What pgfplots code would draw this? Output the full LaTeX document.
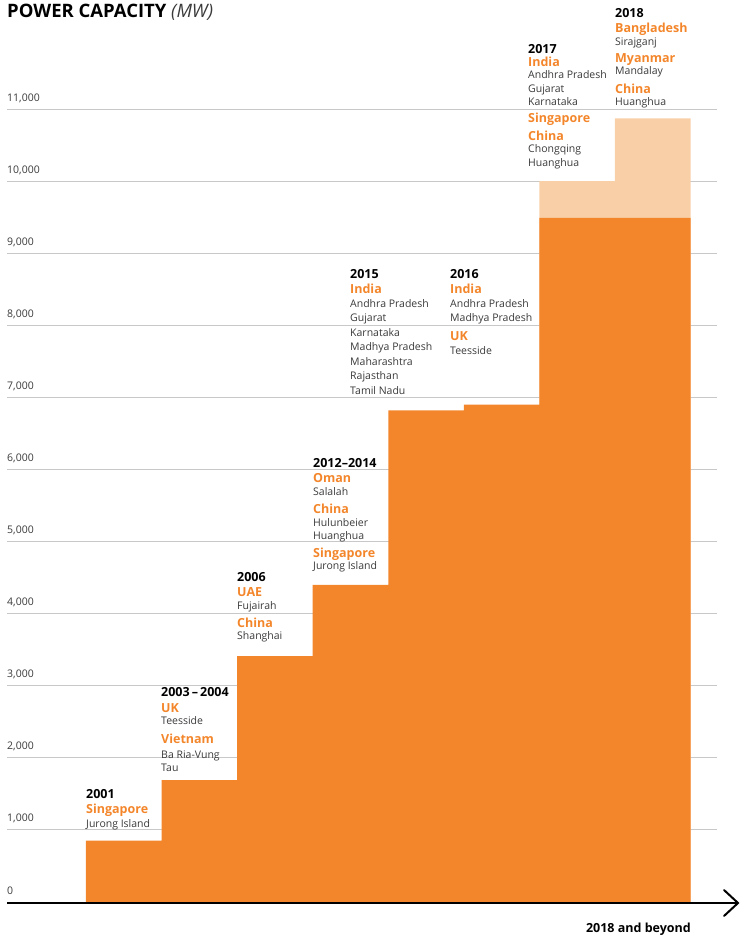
\documentclass[border=0pt]{standalone}
\usepackage{pgfplots}
\pgfplotsset{compat=1.18}
\usepackage{fontspec}
\setmainfont{Open Sans}
\definecolor{corange}{HTML}{F3862B}
\definecolor{clight}{HTML}{F9CFA7}
\definecolor{cplace}{HTML}{3A3A3A}
\definecolor{cgrid}{HTML}{C8C8C8}
\newcommand{\yr}[3]{\node[anchor=base west,inner sep=0pt,font=\fontsize{12.5}{14}\selectfont\bfseries,text=black] at (#1,#2) {#3};}
\newcommand{\ct}[3]{\node[anchor=base west,inner sep=0pt,font=\fontsize{12.5}{14}\selectfont\bfseries,text=corange] at (#1,#2) {#3};}
\newcommand{\pl}[3]{\node[anchor=base west,inner sep=0pt,font=\fontsize{10.5}{12}\selectfont,text=cplace] at (#1,#2) {#3};}
\begin{document}
\begin{tikzpicture}
\begin{axis}[at={(7pt,-902pt)}, anchor=south west, scale only axis,
  width=710pt, height=793pt,
  xmin=-1.045, xmax=8.35, ymin=0, ymax=11000,
  axis line style={draw=none}, xtick=\empty,
  scaled y ticks=false,
  ytick={0,1000,2000,3000,4000,5000,6000,7000,8000,9000,10000,11000},
  yticklabels={0,{1,000},{2,000},{3,000},{4,000},{5,000},{6,000},{7,000},{8,000},{9,000},{10,000},{11,000}},
  major tick length=0pt, ymajorgrids, grid style={cgrid, line width=1pt},
  yticklabel style={anchor=base west, inner sep=0pt, yshift=8pt, font=\fontsize{10.5}{12}\selectfont, text=cplace},
  clip=false]
\addplot[const plot, fill=clight, draw=none] coordinates {(6,10000) (7,10870) (8,10870)} \closedcycle;
\addplot[const plot, fill=corange, draw=none] coordinates {(0,850) (1,1690) (2,3410) (3,4400) (4,6820) (5,6900) (6,9490) (7,9490) (8,9490)} \closedcycle;
\end{axis}
\begin{scope}[x=1pt,y=-1pt]
\draw[line width=2pt] (7,903) -- (737,903);
\draw[line width=2pt, line cap=round, line join=miter] (724,890) -- (738,903) -- (724,916);
\node[anchor=base west,inner sep=0pt,font=\fontsize{18.5}{20}\selectfont] at (7,17) {\textbf{POWER CAPACITY} {\itshape\color{cplace}(MW)}};
\node[anchor=base east,inner sep=0pt,font=\fontsize{12.5}{14}\selectfont\bfseries] at (691,932) {2018 and beyond};
% 2001
\yr{86}{798}{2001}\ct{86}{813}{Singapore}\pl{86}{827}{Jurong Island}
% 2003-2004
\yr{161}{696}{2003\,–\,2004}\ct{161}{712}{UK}\pl{161}{724}{Teesside}\ct{161}{743}{Vietnam}\pl{161}{758}{Ba Ria-Vung}\pl{161}{771}{Tau}
% 2006
\yr{237}{581}{2006}\ct{237}{596}{UAE}\pl{237}{609}{Fujairah}\ct{237}{627}{China}\pl{237}{639}{Shanghai}
% 2012-2014
\yr{313}{467}{2012–2014}\ct{313}{482}{Oman}\pl{313}{495}{Salalah}\ct{313}{513}{China}\pl{313}{526}{Hulunbeier}\pl{313}{539}{Huanghua}\ct{313}{557}{Singapore}\pl{313}{569}{Jurong Island}
% 2015
\yr{350}{278}{2015}\ct{350}{293}{India}\pl{350}{307}{Andhra Pradesh}\pl{350}{321}{Gujarat}\pl{350}{336}{Karnataka}\pl{350}{350}{Madhya Pradesh}\pl{350}{365}{Maharashtra}\pl{350}{379}{Rajasthan}\pl{350}{394}{Tamil Nadu}
% 2016
\yr{450}{278}{2016}\ct{450}{293}{India}\pl{450}{307}{Andhra Pradesh}\pl{450}{321}{Madhya Pradesh}\ct{450}{340}{UK}\pl{450}{354}{Teesside}
% 2017
\yr{528}{53}{2017}\ct{528}{66}{India}\pl{528}{78}{Andhra Pradesh}\pl{528}{92}{Gujarat}\pl{528}{105}{Karnataka}\ct{528}{122}{Singapore}\ct{528}{140}{China}\pl{528}{152}{Chongqing}\pl{528}{166}{Huanghua}
% 2018
\yr{615}{17}{2018}\ct{615}{32}{Bangladesh}\pl{615}{45}{Sirajganj}\ct{615}{62}{Myanmar}\pl{615}{74}{Mandalay}\ct{615}{93}{China}\pl{615}{105}{Huanghua}
\end{scope}
\pgfresetboundingbox
\useasboundingbox (0,0) rectangle (741pt,-937pt);
\end{tikzpicture}
\end{document}
